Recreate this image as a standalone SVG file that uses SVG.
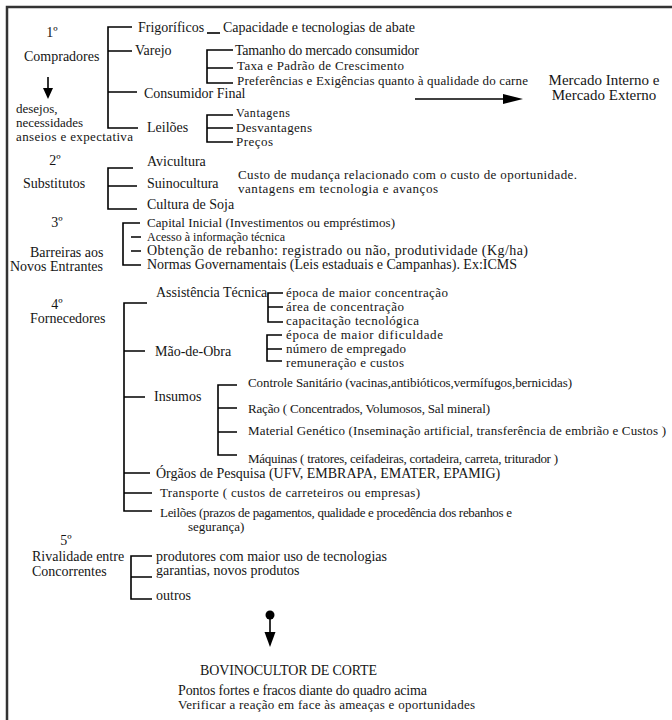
<svg xmlns="http://www.w3.org/2000/svg" width="672" height="720" viewBox="0 0 672 720">
<style>
text{font-family:"Liberation Serif","Times New Roman",serif;font-size:14px;fill:#151515}
.s{font-size:13px}
.xs{font-size:12px}
.l{font-size:15px}
.m{text-anchor:middle}
.ln{stroke:#000;stroke-width:1.6;fill:none}
.fr{stroke:#333;stroke-width:2.5;fill:none}
</style>
<rect width="672" height="720" fill="#fff"/>
<path class="fr" d="M7,720 V7 H672"/>

<g id="connectors">
<path class="ln" d="M132,27 H108 V128 H138 M108,51 H132 M108,92 H137"/>
<path class="ln" d="M233,50 H207 V83 H233 M207,68 H233"/>
<path class="ln" d="M233,115 H207 V142 H233 M207,128 H233"/>
<line class="ln" x1="207" y1="33" x2="220" y2="33"/>
<line class="ln" x1="48" y1="77" x2="48" y2="89" stroke-width="2"/>
<polygon points="43,88 53,88 48,99" fill="#000"/>
<line class="ln" x1="415" y1="99" x2="505" y2="99" stroke-width="2"/>
<polygon points="503,94 523,99 503,104" fill="#000"/>
<path class="ln" d="M133,168 H108 V209 H137 M108,186 H137"/>
<path class="ln" d="M140,223 H123 V265 H141 M131,237 H141 M131,251 H141"/>
<path class="ln" d="M147,303 H124 V511 H152 M124,351 H145 M124,397 H145 M124,473 H150 M124,493 H152"/>
<path class="ln" d="M283,293 H268 V322 H283 M268,307 H283"/>
<path class="ln" d="M282,335 H267 V361 H282 M267,349 H282"/>
<path class="ln" d="M237,385 H218 V455 H237 M218,408 H237 M218,432 H237"/>
<path class="ln" d="M152,556 H131 V599 H152 M131,577 H152"/>
<circle cx="270" cy="615" r="4.5" fill="#000"/>
<line class="ln" x1="270" y1="615" x2="270" y2="634"/>
<polygon points="264.5,632 275.5,632 270,647" fill="#000"/>
</g>

<g id="compradores">
<text class="m" x="52" y="37">1º</text>
<text x="24" y="61">Compradores</text>
<text class="s" x="16" y="113">desejos,</text>
<text class="s" x="16" y="127">necessidades</text>
<text class="s" x="16" y="141" textLength="117">anseios e expectativa</text>
</g>
<g id="frigorificos">
<text x="138" y="32">Frigoríficos</text>
<text x="223" y="32">Capacidade e tecnologias de abate</text>
</g>
<g id="varejo">
<text x="135" y="55">Varejo</text>
<text x="235" y="55" textLength="184">Tamanho do mercado consumidor</text>
<text class="s" x="237" y="70" textLength="167">Taxa e Padrão de Crescimento</text>
<text class="s" x="237" y="85" textLength="291">Preferências e Exigências quanto à qualidade do carne</text>
</g>
<g id="mercado">
<text class="m l" x="604" y="85">Mercado Interno e</text>
<text class="m l" x="604" y="100">Mercado Externo</text>
</g>
<g id="consumidor">
<text x="144" y="98">Consumidor Final</text>
</g>
<g id="leiloes1">
<text x="147" y="132">Leilões</text>
<text class="xs" x="236" y="117" textLength="54">Vantagens</text>
<text class="s" x="236" y="132" textLength="76">Desvantagens</text>
<text class="s" x="236" y="146" textLength="37">Preços</text>
</g>

<g id="substitutos">
<text class="m" x="55" y="165">2º</text>
<text x="23" y="188">Substitutos</text>
<text x="147" y="166">Avicultura</text>
<text x="147" y="188">Suinocultura</text>
<text x="147" y="209">Cultura de Soja</text>
<text class="s" x="238" y="179" textLength="339">Custo de mudança relacionado com o custo de oportunidade.</text>
<text class="s" x="238" y="193" textLength="200">vantagens em tecnologia e avanços</text>
</g>

<g id="barreiras">
<text class="m" x="57" y="227">3º</text>
<text x="30" y="257">Barreiras aos</text>
<text x="10" y="271">Novos Entrantes</text>
<text class="s" x="147" y="227" textLength="248">Capital Inicial (Investimentos ou empréstimos)</text>
<text class="xs" x="147" y="241" textLength="138">Acesso à informação técnica</text>
<text x="147" y="255" textLength="381">Obtenção de rebanho: registrado ou não, produtividade (Kg/ha)</text>
<text x="147" y="269" textLength="370">Normas Governamentais (Leis estaduais e Campanhas). Ex:ICMS</text>
</g>

<g id="fornecedores">
<text class="m" x="57" y="309">4º</text>
<text x="30" y="323">Fornecedores</text>
</g>
<g id="assistencia">
<text x="156" y="297">Assistência Técnica</text>
<text class="s" x="286" y="297" textLength="162">época de maior concentração</text>
<text class="s" x="286" y="311" textLength="118">área de concentração</text>
<text class="s" x="286" y="325" textLength="133">capacitação tecnológica</text>
</g>
<g id="maodeobra">
<text x="155" y="356">Mão-de-Obra</text>
<text class="s" x="286" y="339" textLength="157">época de maior dificuldade</text>
<text class="s" x="286" y="353" textLength="120">número de empregado</text>
<text class="s" x="286" y="367" textLength="118">remuneração e custos</text>
</g>
<g id="insumos">
<text x="154" y="401">Insumos</text>
<text class="s" x="248" y="387" textLength="324">Controle Sanitário (vacinas,antibióticos,vermífugos,bernicidas)</text>
<text class="s" x="248" y="413" textLength="242">Ração ( Concentrados, Volumosos, Sal mineral)</text>
<text class="s" x="248" y="435" textLength="418">Material Genético (Inseminação artificial, transferência de embrião e Custos )</text>
<text class="s" x="248" y="463" textLength="310">Máquinas ( tratores, ceifadeiras, cortadeira, carreta, triturador )</text>
</g>
<g id="orgaos">
<text x="156" y="478">Órgãos de Pesquisa (UFV, EMBRAPA, EMATER, EPAMIG)</text>
</g>
<g id="transporte">
<text class="s" x="160" y="497" textLength="260">Transporte ( custos de carreteiros ou empresas)</text>
</g>
<g id="leiloes2">
<text class="s" x="160" y="517" textLength="352">Leilões (prazos de pagamentos, qualidade e procedência dos rebanhos e</text>
<text class="s" x="188" y="531">segurança)</text>
</g>

<g id="rivalidade">
<text class="m" x="66" y="545">5º</text>
<text x="32" y="561">Rivalidade entre</text>
<text x="32" y="576">Concorrentes</text>
<text x="156" y="561" textLength="231">produtores com maior uso de tecnologias</text>
<text x="156" y="575">garantias, novos produtos</text>
<text x="156" y="600">outros</text>
</g>

<g id="bovinocultor">
<text x="200" y="675" textLength="177">BOVINOCULTOR DE CORTE</text>
<text x="178" y="695" textLength="249">Pontos fortes e fracos diante do quadro acima</text>
<text class="s" x="178" y="709" textLength="297">Verificar a reação em face às ameaças e oportunidades</text>
</g>
</svg>
